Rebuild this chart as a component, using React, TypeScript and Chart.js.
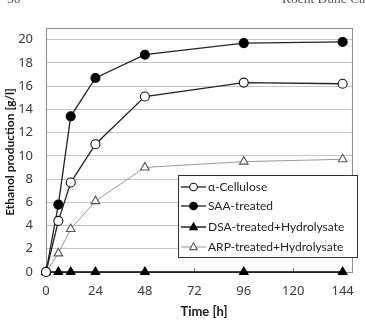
import React, { useEffect, useRef } from "react";
import { Chart, registerables } from "chart.js";
Chart.register(...registerables);

const hours = [0, 6, 12, 24, 48, 96, 144];
const celluloseValues = [0, 4.4, 7.7, 11.0, 15.1, 16.3, 16.2];
const saaValues = [0, 5.8, 13.4, 16.7, 18.7, 19.7, 19.8];
const dsaValues = [0, 0, 0, 0, 0, 0, 0];
const arpValues = [0, 1.6, 3.7, 6.1, 9.0, 9.5, 9.7];
const seriesLabels = ["α-Cellulose", "SAA-treated", "DSA-treated+Hydrolysate", "ARP-treated+Hydrolysate"];
const xTicks = [0, 24, 48, 72, 96, 120, 144];
const yTicks = [0, 2, 4, 6, 8, 10, 12, 14, 16, 18, 20];
const xTitle = "Time [h]";
const yTitle = "Ethanol production [g/l]";

const FONT = "'Noto Sans', 'DejaVu Sans', sans-serif";
const LFONT = "Lato, 'Noto Sans', sans-serif";

function drawMarker(ctx: CanvasRenderingContext2D, style: string, x: number, y: number, r: number, fill: string, stroke: string) {
  ctx.save();
  ctx.beginPath();
  if (style === "circle") {
    ctx.arc(x, y, r, 0, Math.PI * 2);
  } else {
    ctx.moveTo(x, y - r * 1.1);
    ctx.lineTo(x + r, y + r * 0.7);
    ctx.lineTo(x - r, y + r * 0.7);
    ctx.closePath();
  }
  ctx.fillStyle = fill;
  ctx.fill();
  ctx.lineWidth = 1.1;
  ctx.strokeStyle = stroke;
  ctx.stroke();
  ctx.restore();
}

const framePlugin = {
  id: "frame",
  beforeDatasetsDraw(chart: any) {
    const { ctx, chartArea } = chart;
    ctx.save();
    ctx.strokeStyle = "#8c8c8c";
    ctx.lineWidth = 1;
    ctx.strokeRect(chartArea.left + 0.5, chartArea.top + 0.5, chartArea.right - chartArea.left - 1, chartArea.bottom - chartArea.top);
    const xs = chart.scales.x;
    ctx.strokeStyle = "#777";
    xTicks.forEach((v) => {
      if (v === 0) return;
      const px = Math.round(xs.getPixelForValue(v)) + 0.5;
      ctx.beginPath();
      ctx.moveTo(px, chartArea.bottom);
      ctx.lineTo(px, chartArea.bottom - 4);
      ctx.stroke();
    });
    ctx.restore();
  },
  afterDraw(chart: any) {
    const { ctx } = chart;
    ctx.save();
    ctx.fillStyle = "#1a1a1a";
    ctx.font = `bold 13px ${LFONT}`;
    ctx.textAlign = "center";
    ctx.textBaseline = "middle";
    ctx.fillText(xTitle, 204, 312);
    ctx.translate(10, 152);
    ctx.rotate(-Math.PI / 2);
    ctx.font = `bold 12px ${LFONT}`;
    ctx.fillText(yTitle, 0, 0);
    ctx.restore();

    // legend box
    const bx = 178, by = 175, bw = 179, bh = 82;
    ctx.save();
    ctx.fillStyle = "#fff";
    ctx.fillRect(bx, by, bw, bh);
    ctx.strokeStyle = "#333";
    ctx.lineWidth = 1;
    ctx.strokeRect(bx + 0.5, by + 0.5, bw, bh);
    const rows = [187, 206, 227, 247];
    chart.data.datasets.forEach((ds: any, i: number) => {
      const y = rows[i];
      ctx.beginPath();
      ctx.strokeStyle = ds.borderColor;
      ctx.lineWidth = ds.borderWidth;
      ctx.moveTo(181, y);
      ctx.lineTo(206, y);
      ctx.stroke();
      drawMarker(ctx, ds.pointStyle, 193.5, y, 3.8, ds.pointBackgroundColor, ds.pointBorderColor);
      ctx.fillStyle = "#222";
      ctx.font = `12px ${LFONT}`;
      ctx.textAlign = "left";
      ctx.textBaseline = "middle";
      ctx.fillText(ds.label, 208, y);
    });
    ctx.restore();
  },
};

export default function App() {
  const ref = useRef<HTMLCanvasElement>(null);
  useEffect(() => {
    document.body.style.margin = "0";
    const mk = (label: string, values: number[], style: string, fill: string, stroke: string, line: string, lw: number, r: number) => ({
      label,
      data: hours.map((h, i) => ({ x: h, y: values[i] })),
      borderColor: line,
      borderWidth: lw,
      pointStyle: style,
      pointRadius: r,
      pointBackgroundColor: fill,
      pointBorderColor: stroke,
      pointBorderWidth: 1.1,
      clip: false,
      tension: 0,
    });
    const chart = new Chart(ref.current!, {
      type: "line",
      data: {
        datasets: [
          mk(seriesLabels[0], celluloseValues, "circle", "#fff", "#111", "#222", 1.3, 4.5),
          mk(seriesLabels[1], saaValues, "circle", "#000", "#000", "#222", 1.3, 4.5),
          mk(seriesLabels[2], dsaValues, "triangle", "#000", "#000", "#000", 1.3, 5),
          mk(seriesLabels[3], arpValues, "triangle", "#fff", "#555", "#999", 1, 5),
        ] as any,
      },
      options: {
        animation: false,
        responsive: false,
        layout: { padding: { top: 28, right: 5, left: 0, bottom: 0 } },
        plugins: { legend: { display: false }, tooltip: { enabled: false } },
        scales: {
          x: {
            type: "linear",
            min: 0,
            max: 149,
            afterBuildTicks: (s: any) => { s.ticks = xTicks.map((v) => ({ value: v })); },
            afterFit: (s: any) => { s.height = 48; },
            grid: { display: false, drawTicks: false },
            border: { display: true, color: "#8c8c8c" },
            ticks: { padding: 11, color: "#3a3a3a", font: { family: FONT, size: 13 }, maxRotation: 0 },
          },
          y: {
            min: 0,
            max: 21,
            afterBuildTicks: (s: any) => { s.ticks = yTicks.map((v) => ({ value: v })); },
            afterFit: (s: any) => { s.width = 46; },
            grid: { color: "#c4c4c4", drawTicks: false },
            border: { display: true, color: "#8c8c8c" },
            ticks: { padding: 13, color: "#3a3a3a", font: { family: FONT, size: 13 } },
          },
        },
      } as any,
      plugins: [framePlugin],
    });
    return () => chart.destroy();
  }, []);
  return (
    <div style={{ position: "fixed", left: 0, top: 0, width: 365, height: 320, overflow: "hidden", background: "#fff" }}>
      <canvas ref={ref} width={365} height={320} style={{ width: 365, height: 320, display: "block" }} />
      <div style={{ position: "absolute", left: 7, top: -9, lineHeight: "16px", fontFamily: "'Liberation Serif', serif", fontSize: 13.5, color: "#555" }}>50</div>
      <div style={{ position: "absolute", left: 282, top: -9, lineHeight: "16px", fontFamily: "'Liberation Serif', serif", fontSize: 13.5, color: "#555", whiteSpace: "nowrap" }}>Roent Dune Cay</div>
    </div>
  );
}
